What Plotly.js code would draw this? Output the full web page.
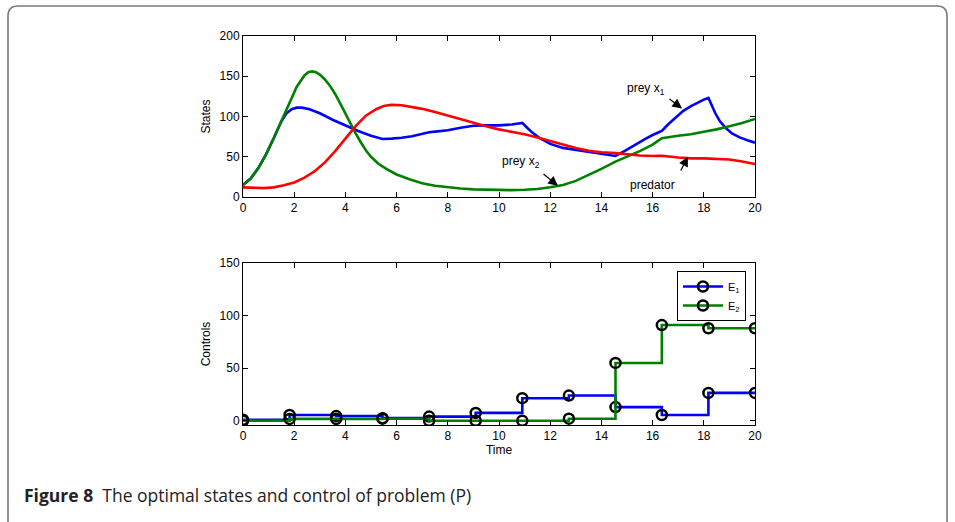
<!DOCTYPE html>
<html>
<head>
<meta charset="utf-8">
<script src="https://cdn.plot.ly/plotly-3.0.1.min.js"></script>
<style>
html,body{margin:0;padding:0;background:#fff;}
#chart{width:955px;height:522px;}
</style>
</head>
<body>
<div id="chart"></div>
<script>
// ---- States (top panel) ----
const tPrey1 = [0,0.3,0.6,0.9,1.2,1.5,1.7,1.9,2.1,2.3,2.6,3,3.5,4,4.5,5,5.45,5.8,6.2,6.6,7,7.27,7.6,8,8.5,9,9.5,10,10.5,10.91,11.1,11.3,11.6,12,12.5,13,13.5,14,14.55,14.9,15.3,15.7,16.0,16.36,16.6,16.9,17.2,17.5,17.8,18.0,18.18,18.3,18.45,18.63,18.85,19.1,19.4,19.7,20];
const prey1  = [15,23,36,53,73,94,104,109,111,111,109,104,96,89,82,76,72,72.5,73.5,75.5,78,80.5,81.5,83,86,88.5,89,89,90,92,86,80,73,66,61,58.5,56,53.5,51,57,65,72,77,82,90,99,107,113,118,121,123,114,104,94,86,79,74,70.5,67.5];

const tPrey2 = [0,0.3,0.6,0.9,1.2,1.5,1.8,2.1,2.4,2.55,2.7,2.85,3.0,3.2,3.4,3.6,3.8,4.0,4.2,4.4,4.6,4.8,5.0,5.3,5.6,6,6.5,7,7.5,8,8.5,9,9.5,10,10.5,11,11.5,12,12.5,13,13.5,14,14.55,15,15.5,16,16.36,17,17.5,18,18.5,19,19.5,20];
const prey2  = [15,23,36,53,73,95,117,137,151,155,156,155,152,146,138,128,116,103,91,79,68,58,50,41,35,28,22,17,14,12,10.5,9.5,9,8.5,8.5,9,10,12,15,20,27,35,44,50,57,65,73,76,78,81,84,88,92,97];

const tPred  = [0,0.4,0.8,1.2,1.6,2,2.4,2.8,3.2,3.6,4.0,4.4,4.8,5.2,5.5,5.8,6.2,6.6,7,7.5,8,8.5,9,9.5,10,10.5,11,11.5,12,12.5,13,13.5,14,14.55,15,15.5,16,16.36,17,17.5,18,18.5,19,19.5,20];
const pred   = [12,11.2,11,12,14.5,18,24,32,43,57,72,88,101,109,113,114.5,114,112,109.5,105.5,101,97,92.5,88,84,81,78,74,69.5,65,61,57.5,55.5,54.5,53,51.5,51,51.2,49,48,48,47.5,46.5,44,41];

// ---- Controls (bottom panel) ----
const tCtrl = [0,1.82,3.64,5.45,7.27,9.09,10.91,12.73,14.55,16.36,18.18,20];
const E1    = [1,5.5,4.5,2.5,4,7.5,21.5,24,13,5.5,26.5,26.5];
const E2    = [0,1.8,1.8,2,0,0,0,2,55,91,88,88];

// ---- Tick labels ----
const xTicks = [0,2,4,6,8,10,12,14,16,18,20];
const yTicksTop = [0,50,100,150,200];
const yTicksBot = [0,50,100,150];

const W = 955, H = 522;
const px = v => v / W;
const py = v => 1 - v / H;

const blue = '#0000ff', green = '#008000', red = '#ff0000';
const font = {family: 'Liberation Sans, Arial, sans-serif', size: 12, color: '#000'};

const mk = {symbol: 'circle-open', size: 10, color: '#000', line: {width: 2.5, color: '#000'}};

const traces = [
  {x: tPrey1, y: prey1, mode: 'lines', line: {color: blue, width: 2.6}, xaxis: 'x', yaxis: 'y', showlegend: false},
  {x: tPrey2, y: prey2, mode: 'lines', line: {color: green, width: 2.6}, xaxis: 'x', yaxis: 'y', showlegend: false},
  {x: tPred,  y: pred,  mode: 'lines', line: {color: red, width: 2.6}, xaxis: 'x', yaxis: 'y', showlegend: false},
  {x: tCtrl, y: E1, name: 'E<sub>1</sub>', mode: 'lines+markers', line: {color: blue, width: 2.6, shape: 'hv'},
   marker: mk, xaxis: 'x2', yaxis: 'y2'},
  {x: tCtrl, y: E2, name: 'E<sub>2</sub>', mode: 'lines+markers', line: {color: green, width: 2.6, shape: 'hv'},
   marker: mk, xaxis: 'x2', yaxis: 'y2'}
];

const axBase = {
  showline: true, linecolor: '#000', linewidth: 1, mirror: 'ticks',
  ticks: 'inside', ticklen: 5, tickcolor: '#000', tickwidth: 1,
  showgrid: false, zeroline: false, tickfont: font, automargin: false
};

const r = 10, L = 8, T = 6, R = 947, B = 532;
const borderPath =
  `M ${px(L)},${py(T + r)} L ${px(L)},${py(B - r)} Q ${px(L)},${py(B)} ${px(L + r)},${py(B)} ` +
  `L ${px(R - r)},${py(B)} Q ${px(R)},${py(B)} ${px(R)},${py(B - r)} ` +
  `L ${px(R)},${py(T + r)} Q ${px(R)},${py(T)} ${px(R - r)},${py(T)} ` +
  `L ${px(L + r)},${py(T)} Q ${px(L)},${py(T)} ${px(L)},${py(T + r)} Z`;

const arrowStyle = {showarrow: true, arrowhead: 2, arrowsize: 1.6, arrowwidth: 1.2, arrowcolor: '#000', text: '', axref: 'x', ayref: 'y', xref: 'x', yref: 'y'};

const layout = {
  width: W, height: H,
  margin: {l: 0, r: 0, t: 0, b: 0},
  paper_bgcolor: '#fff', plot_bgcolor: '#fff',
  font: font,
  xaxis: Object.assign({}, axBase, {domain: [px(243), px(755)], range: [0, 20], tickvals: xTicks, anchor: 'y'}),
  yaxis: Object.assign({}, axBase, {domain: [py(197), py(36)], range: [0, 200], tickvals: yTicksTop, anchor: 'x',
    title: {text: 'States', font: font, standoff: 6}}),
  xaxis2: Object.assign({}, axBase, {domain: [px(243), px(755)], range: [0, 20], tickvals: xTicks, anchor: 'y2',
    title: {text: 'Time', font: font, standoff: 2}}),
  yaxis2: Object.assign({}, axBase, {domain: [py(425), py(263)], range: [-4, 150], tickvals: yTicksBot, anchor: 'x2',
    title: {text: 'Controls', font: font, standoff: 6}}),
  showlegend: true,
  legend: {x: px(746), y: py(271), xanchor: 'right', yanchor: 'top', bgcolor: '#fff',
    bordercolor: '#000', borderwidth: 1, font: {family: font.family, size: 11, color: '#000'},
    itemwidth: 40, tracegroupgap: 0},
  shapes: [
    {type: 'path', xref: 'paper', yref: 'paper', path: borderPath, line: {color: '#7a7a7a', width: 1.6}, fillcolor: 'rgba(0,0,0,0)'}
  ],
  annotations: [
    Object.assign({}, arrowStyle, {x: 17.15, y: 110, ax: 16.6, ay: 123}),
    Object.assign({}, arrowStyle, {x: 12.3, y: 14, ax: 11.68, ay: 30}),
    Object.assign({}, arrowStyle, {x: 17.38, y: 50, ax: 17.07, ay: 31}),
    {x: 15.75, y: 134, xref: 'x', yref: 'y', text: 'prey x<sub>1</sub>', showarrow: false, font: font},
    {x: 10.85, y: 43, xref: 'x', yref: 'y', text: 'prey x<sub>2</sub>', showarrow: false, font: font},
    {x: 16.0, y: 15, xref: 'x', yref: 'y', text: 'predator', showarrow: false, font: font},
    {x: px(22), y: py(495), xref: 'paper', yref: 'paper', xanchor: 'left', yanchor: 'middle', showarrow: false,
     text: '<b>Figure 8</b>\u00A0\u00A0The optimal states and control of problem (P)',
     font: {family: 'Open Sans, Noto Sans, sans-serif', size: 17.5, color: '#222'}}
  ]
};

Plotly.newPlot('chart', traces, layout, {displayModeBar: false, staticPlot: true});
</script>
</body>
</html>
